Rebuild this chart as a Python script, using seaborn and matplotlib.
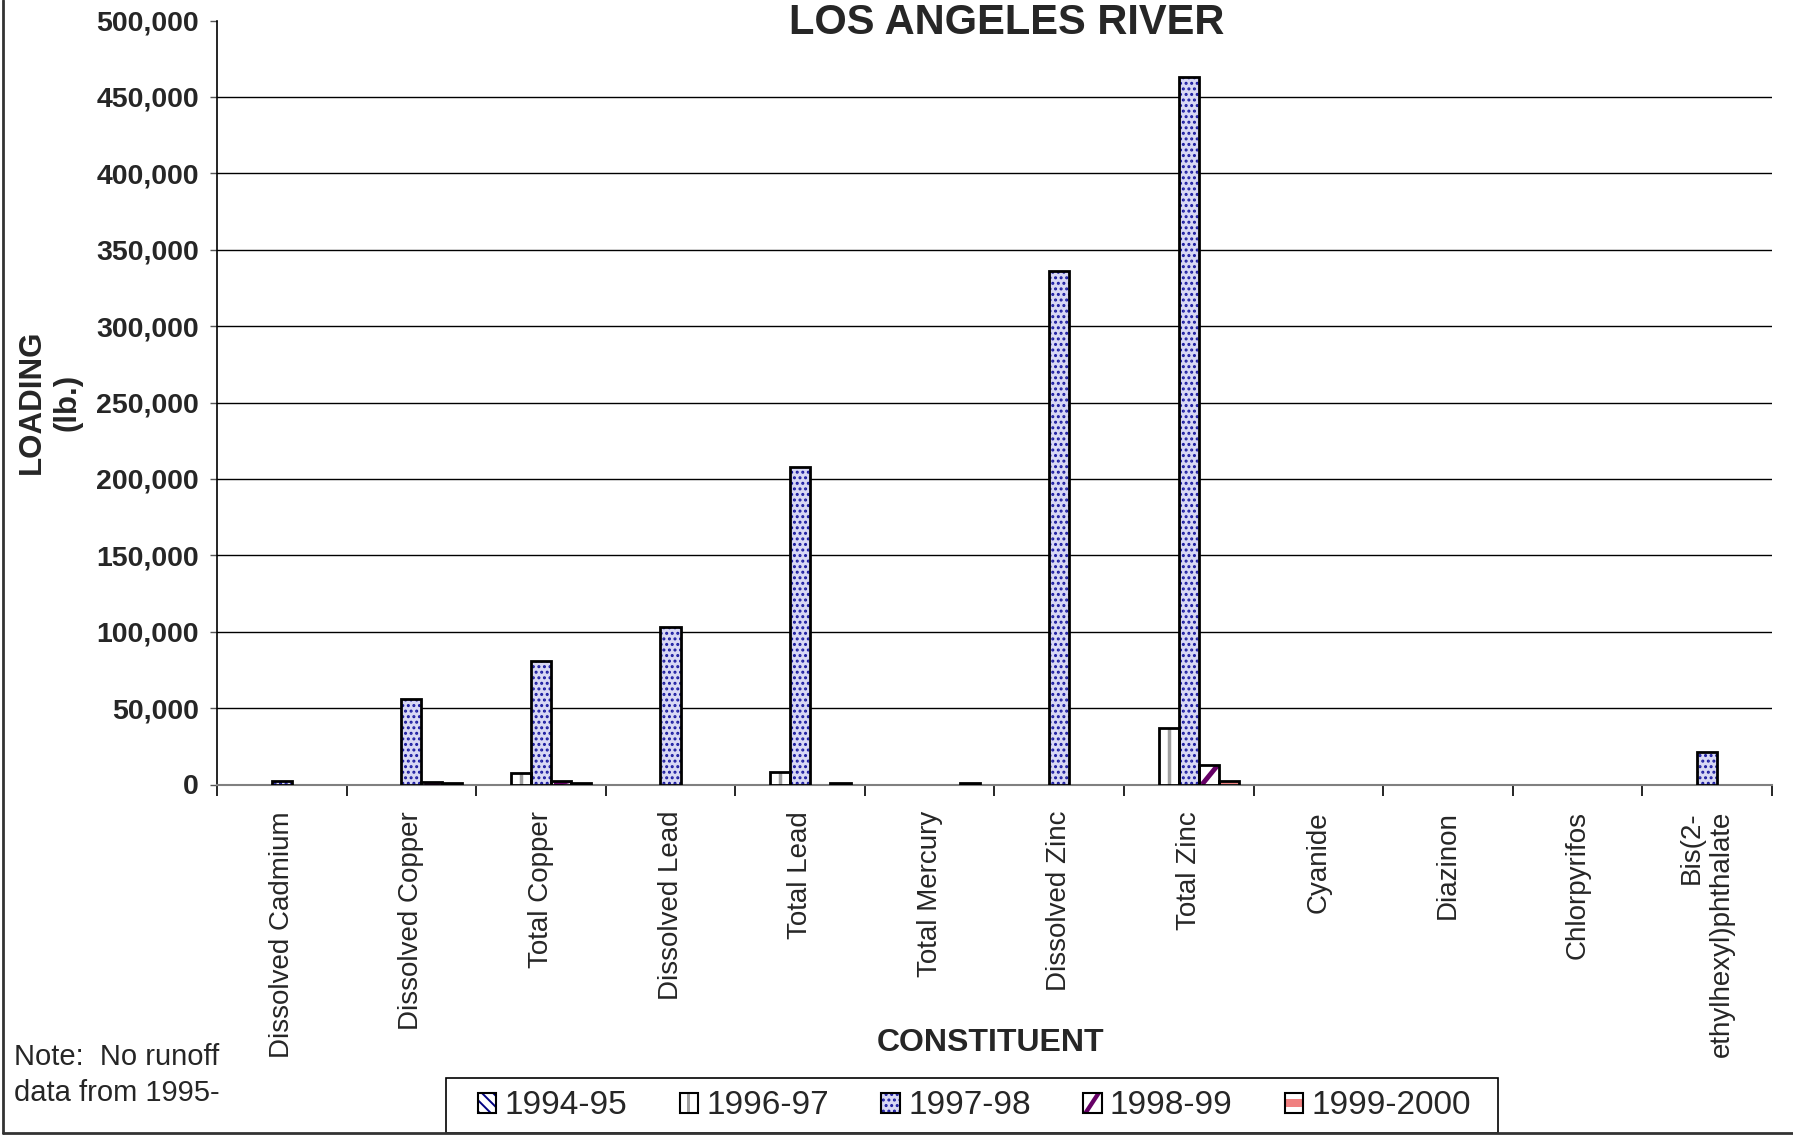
import matplotlib

matplotlib.use("Agg")
import matplotlib.pyplot as plt
import pandas as pd
import seaborn as sns
from matplotlib.legend_handler import HandlerPatch
from matplotlib.lines import Line2D
from matplotlib.patches import Patch, Polygon, Rectangle
from matplotlib.ticker import FixedLocator, FuncFormatter, MultipleLocator

CONSTITUENTS = [
    "Dissolved Cadmium",
    "Dissolved Copper",
    "Total Copper",
    "Dissolved Lead",
    "Total Lead",
    "Total Mercury",
    "Dissolved Zinc",
    "Total Zinc",
    "Cyanide",
    "Diazinon",
    "Chlorpyrifos",
    "Bis(2-ethylhexyl)phthalate",
]
TICK_LABELS = CONSTITUENTS[:-1] + ["Bis(2-\nethylhexyl)phthalate"]
YEARS = ["1994-95", "1996-97", "1997-98", "1998-99", "1999-2000"]

# loading in lb., None = no bar
LOAD_1994_95 = [None] * 12
LOAD_1996_97 = [None, None, 7500, None, 8300, None, None, 36700, None, None, None, None]
LOAD_1997_98 = [2500, 56100, 80800, 103300, 208100, None, 336000, 463300, None, None, None, 21000]
LOAD_1998_99 = [None, 1500, 2600, None, None, None, None, 13000, None, None, None, None]
LOAD_1999_2000 = [None, 800, 800, None, 1000, 700, None, 2200, None, None, None, None]

# facecolor, hatch, mark kind, mark colour
STYLES = {
    "1994-95": ("white", "\\\\\\", None, "#000080"),
    "1996-97": ("white", None, "vline", "#a0a0a0"),
    "1997-98": ("#d8d8f4", "...", None, "#1a1aa0"),
    "1998-99": ("white", None, "diag", "#660066"),
    "1999-2000": ("white", None, "band", "#f08080"),
}

series = [LOAD_1994_95, LOAD_1996_97, LOAD_1997_98, LOAD_1998_99, LOAD_1999_2000]
rows = []
for year, values in zip(YEARS, series):
    for name, v in zip(CONSTITUENTS, values):
        if v is not None:
            rows.append({"constituent": name, "year": year, "load": v})
df = pd.DataFrame(rows)

sns.set_style("white")
plt.rcParams["font.family"] = ["Liberation Sans", "DejaVu Sans"]
plt.rcParams["hatch.linewidth"] = 1.4

W, H = 1793, 1138
fig = plt.figure(figsize=(W / 100, H / 100), dpi=100)
ax = fig.add_axes([217 / W, 1 - 784.5 / H, (1772 - 217) / W, (784.5 - 20.6) / H])

BAR_WIDTH = 0.78
sns.barplot(
    data=df,
    x="constituent",
    y="load",
    hue="year",
    order=CONSTITUENTS,
    hue_order=YEARS,
    width=BAR_WIDTH,
    dodge=True,
    errorbar=None,
    legend=False,
    ax=ax,
)

slot = BAR_WIDTH / len(YEARS)
for p in list(ax.patches):
    h = p.get_height()
    if not (h == h) or h <= 0:
        continue
    x0, w = p.get_x(), p.get_width()
    xc = x0 + w / 2
    year = YEARS[int(round((xc - round(xc)) / slot)) + 2]
    face, hatch, mark, mcol = STYLES[year]
    p.set_facecolor(face)
    p.set_hatch(hatch)
    p.set_edgecolor(mcol)
    p.set_linewidth(0)
    p.set_zorder(3)
    if mark == "vline":
        ln = Line2D([xc, xc], [0, h], color=mcol, linewidth=2.5, zorder=3.5)
    elif mark == "diag":
        ln = Line2D([x0 + 0.15 * w, x0 + 0.95 * w], [0, h], color=mcol, linewidth=3.5,
                    solid_capstyle="butt", zorder=3.5)
    elif mark == "band":
        ln = Line2D([x0, x0 + w], [h / 2, h / 2], color=mcol, linewidth=1.5, zorder=3.5)
    else:
        ln = None
    if ln is not None:
        ax.add_line(ln)
        ln.set_clip_path(p)
    ax.add_patch(Rectangle((x0, 0), w, h, fill=False, edgecolor="black", linewidth=2.0, zorder=4))

ax.set_ylim(0, 500000)
ax.set_xlim(-0.5, len(CONSTITUENTS) - 0.5)
ax.yaxis.set_major_locator(MultipleLocator(50000))
ax.yaxis.set_major_formatter(FuncFormatter(lambda v, _: f"{v:,.0f}"))
for y in range(50000, 500000, 50000):
    ax.axhline(y, color="black", linewidth=1.0, zorder=1)

ax.set_xticks(range(len(CONSTITUENTS)))
ax.set_xticklabels(TICK_LABELS, rotation=90, fontsize=20, va="top", ha="center")
for lbl in ax.get_xticklabels():
    lbl.set_multialignment("right")
ax.xaxis.set_minor_locator(FixedLocator([i - 0.5 for i in range(len(CONSTITUENTS) + 1)]))
ax.tick_params(axis="x", which="major", length=0, pad=19)
ax.tick_params(axis="x", which="minor", length=8, width=1.2, color="black", direction="out", bottom=True)
ax.tick_params(axis="y", length=5, width=1.0, color="#555555", direction="out", left=True, pad=8)
for lbl in ax.get_yticklabels():
    lbl.set_fontsize(20.5)
    lbl.set_fontweight("bold")

for side in ["top", "right"]:
    ax.spines[side].set_visible(False)
ax.spines["left"].set_color("black")
ax.spines["left"].set_linewidth(1.2)
ax.spines["bottom"].set_color("#808080")
ax.spines["bottom"].set_linewidth(1.5)
ax.set_xlabel("")
ax.set_ylabel("")

fig.text(880 * 1.1435 / W, 1 - 20 * 1.1435 / H, "LOS ANGELES RIVER", fontsize=30,
         fontweight="bold", ha="center", va="center")
fig.text(50 / W, 1 - 402 / H, "LOADING\n(lb.)", fontsize=22.5, fontweight="bold",
         rotation=90, ha="center", va="center", multialignment="center", linespacing=1.25)
fig.text(991 / W, 1 - 1043 / H, "CONSTITUENT", fontsize=23, fontweight="bold",
         ha="center", va="center")
fig.text(14 / W, 1 - 1075 / H, "Note:  No runoff\ndata from 1995-", fontsize=21,
         ha="left", va="center", linespacing=1.4)


def legend_mark(kind):
    def make(legend, orig_handle, xdescent, ydescent, width, height, fontsize):
        x0, y0 = -xdescent, -ydescent
        if kind == "vline":
            return Rectangle((x0 + width * 0.42, y0), width * 0.16, height)
        if kind == "diag":
            t = width * 0.28
            return Polygon([(x0, y0), (x0 + t, y0), (x0 + width, y0 + height),
                            (x0 + width - t, y0 + height)])
        return Rectangle((x0, y0 + height * 0.3), width, height * 0.4)
    return HandlerPatch(patch_func=make)


handles = []
handler_map = {}
for year in YEARS:
    face, hatch, mark, mcol = STYLES[year]
    parts = [Patch(facecolor=face, edgecolor=mcol, hatch=hatch, linewidth=0)]
    if mark:
        m = Patch(facecolor=mcol, edgecolor="none", linewidth=0)
        handler_map[m] = legend_mark(mark)
        parts.append(m)
    parts.append(Patch(fill=False, edgecolor="black", linewidth=1.5))
    handles.append(tuple(parts))
fig.legend(
    handles,
    YEARS,
    handler_map=handler_map,
    loc="lower left",
    bbox_to_anchor=(466 / W, 5 / H, (1483 - 466) / W, 55 / H),
    mode="expand",
    ncol=5,
    fontsize=24,
    frameon=False,
    borderaxespad=0,
    borderpad=0.35,
    handlelength=0.55,
    handleheight=0.55,
    handletextpad=0.25,
)
# legend box
fig.add_artist(Rectangle((446 / W, 5 / H), (1498 - 446) / W, 55 / H, transform=fig.transFigure,
                         fill=False, edgecolor="black", linewidth=1.2))

# outer chart border (left and bottom edges visible)
fig.add_artist(Line2D([3 / W, 3 / W], [5 / H, 1.0], transform=fig.transFigure, color="#333333", linewidth=2))
fig.add_artist(Line2D([3 / W, 1.0], [5 / H, 5 / H], transform=fig.transFigure, color="#333333", linewidth=2))

fig.savefig("out.png", dpi=100)
